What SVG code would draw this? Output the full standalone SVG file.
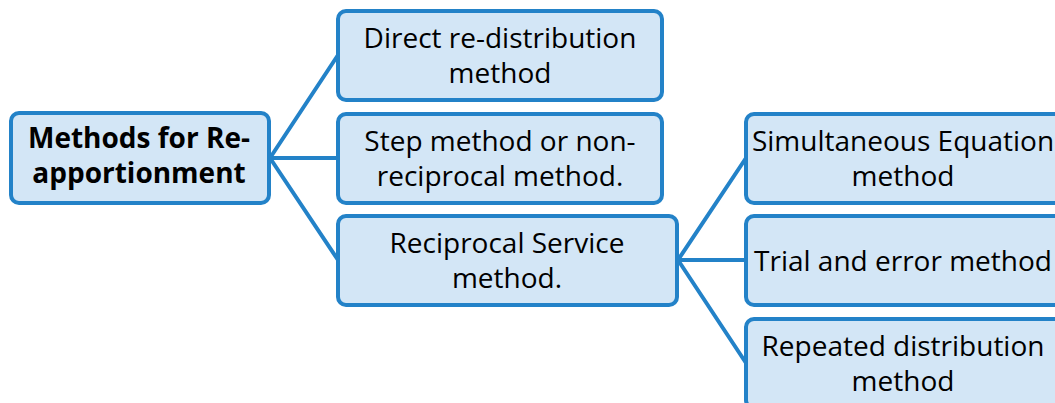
<svg xmlns="http://www.w3.org/2000/svg" width="1055" height="403" viewBox="0 0 1055 403">
<style>
.box{fill:#D3E6F6;stroke:#2382C8;stroke-width:4}
.t{font-family:"Open Sans","Noto Sans",sans-serif;font-size:28px;fill:#000;text-anchor:middle}
.b{font-weight:bold}
.c{stroke:#2382C8;stroke-width:4;fill:none}
</style>
<rect width="1055" height="403" fill="#fff"/>
<g id="connectors">
<path class="c" d="M270 158 L338 55 M270 158 L338 158 M270 158 L338 260"/>
<path class="c" d="M678 260 L746 158 M678 260 L746 260 M678 260 L746 363"/>
</g>
<g id="root">
<rect class="box" x="11" y="113" width="258" height="90" rx="8"/>
<text class="t b" x="139" y="148">Methods for Re-</text>
<text class="t b" x="139" y="183">apportionment</text>
</g>
<g id="direct">
<rect class="box" x="338" y="11" width="324" height="89" rx="8"/>
<text class="t" x="500" y="48">Direct re-distribution</text>
<text class="t" x="500" y="83">method</text>
</g>
<g id="step">
<rect class="box" x="338" y="114" width="324" height="89" rx="8"/>
<text class="t" x="500" y="151">Step method or non-</text>
<text class="t" x="500" y="186">reciprocal method.</text>
</g>
<g id="reciprocal">
<rect class="box" x="338" y="216" width="339" height="89" rx="8"/>
<text class="t" x="507" y="253">Reciprocal Service</text>
<text class="t" x="507" y="288">method.</text>
</g>
<g id="simultaneous">
<rect class="box" x="746" y="114" width="330" height="89" rx="8"/>
<text class="t" x="903" y="151">Simultaneous Equation</text>
<text class="t" x="903" y="186">method</text>
</g>
<g id="trial">
<rect class="box" x="746" y="216" width="330" height="89" rx="8"/>
<text class="t" x="903" y="271">Trial and error method</text>
</g>
<g id="repeated">
<rect class="box" x="746" y="319" width="330" height="89" rx="8"/>
<text class="t" x="903" y="356">Repeated distribution</text>
<text class="t" x="903" y="391">method</text>
</g>
</svg>
